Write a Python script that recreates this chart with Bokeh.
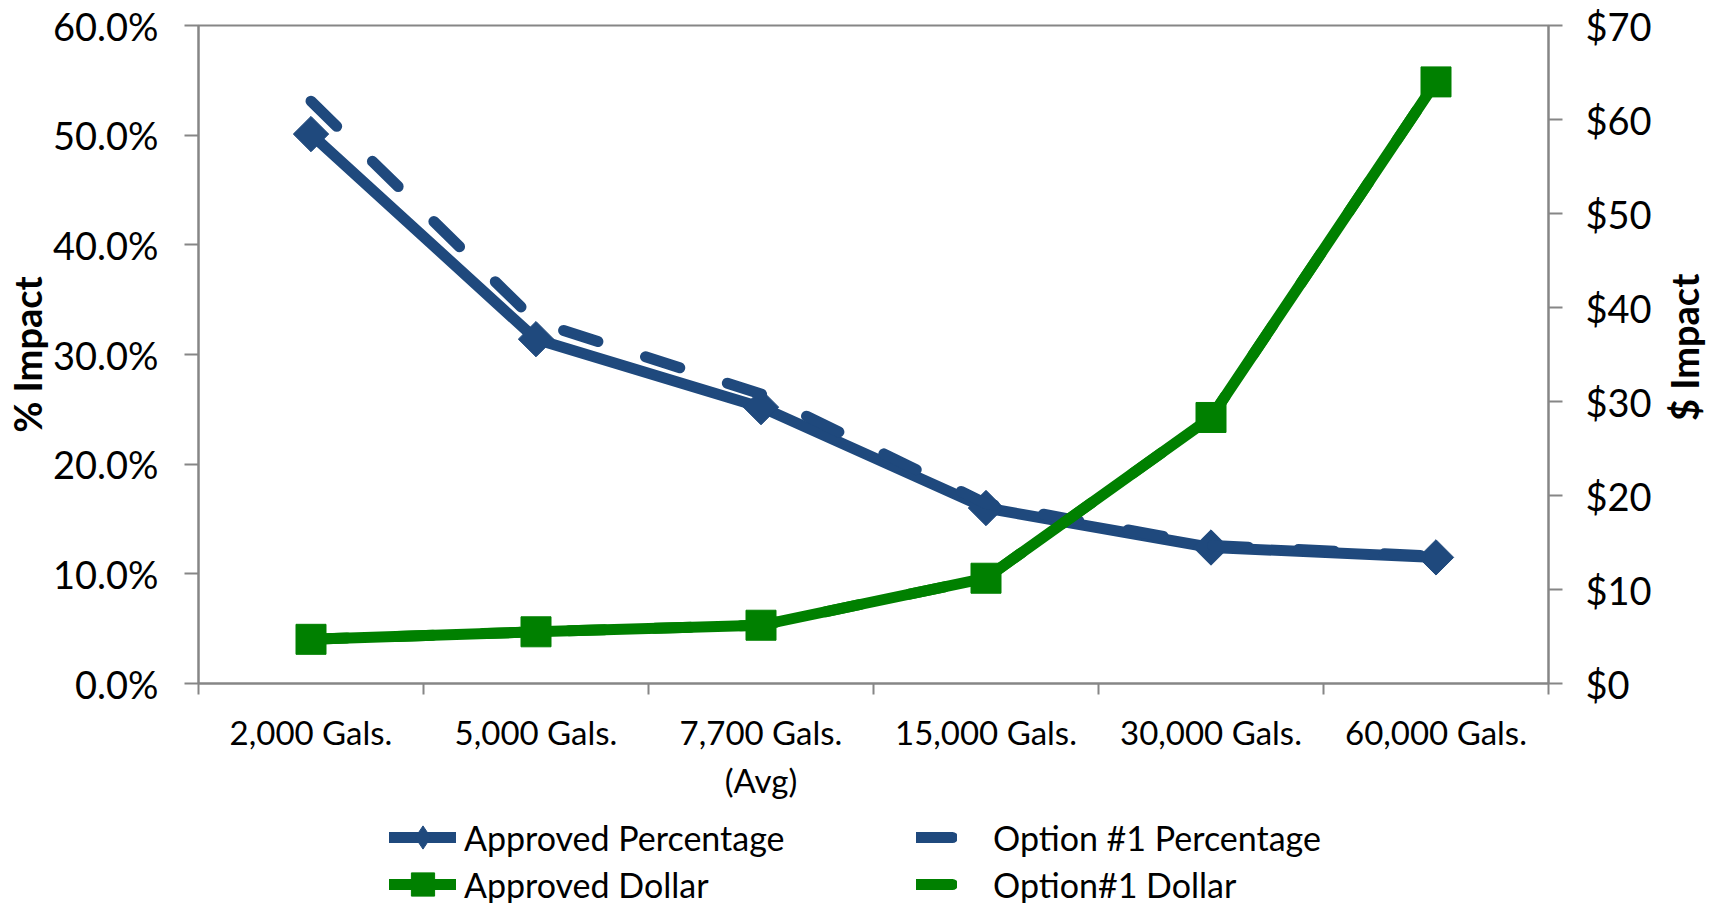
import math
from bokeh.plotting import figure
from bokeh.layouts import column, row
from bokeh.models import (Range1d, LinearAxis, FixedTicker, NumeralTickFormatter,
                          Legend, LegendItem)
from bokeh.core.properties import value
from bokeh.embed import file_html
from bokeh.resources import INLINE

# ---------------- data ----------------
categories = ["2,000 Gals.", "5,000 Gals.", "7,700 Gals.\n(Avg)",
              "15,000 Gals.", "30,000 Gals.", "60,000 Gals."]
approved_pct = [0.501, 0.314, 0.252, 0.160, 0.124, 0.115]
option1_pct = [0.531, 0.330, 0.264, 0.164, 0.126, 0.116]
approved_dollar = [4.7, 5.5, 6.2, 11.2, 28.3, 64.0]
option1_dollar = [4.7, 5.5, 6.2, 11.2, 28.3, 64.0]
pct_ticks = [0.0, 0.1, 0.2, 0.3, 0.4, 0.5, 0.6]
dollar_ticks = [0, 10, 20, 30, 40, 50, 60, 70]
series_names = ["Approved Percentage", "Option #1 Percentage",
                "Approved Dollar", "Option#1 Dollar"]
left_title = "% Impact"
right_title = "$ Impact"

# ---------------- style ----------------
BLUE = "#1F497D"
GREEN = "#008000"
AXIS = "#868686"
FONT = "Lato"
LW = 11
DASH = "36 50"

n = len(categories)
xc = [i + 0.5 for i in range(n)]
bounds = list(range(n + 1))

p = figure(frame_width=1350, frame_height=658,
           x_range=Range1d(0, n), y_range=Range1d(pct_ticks[0], pct_ticks[-1]),
           output_backend="svg", toolbar_location=None, title=None,
           min_border_left=197, min_border_right=112,
           min_border_top=25, min_border_bottom=117)
p.extra_y_ranges = {"dollar": Range1d(dollar_ticks[0], dollar_ticks[-1])}
p.background_fill_color = "white"
p.border_fill_color = "white"
p.outline_line_color = AXIS
p.outline_line_width = 2
p.xgrid.grid_line_color = None
p.ygrid.grid_line_color = None

def style_axis(ax, size):
    ax.axis_line_color = AXIS
    ax.axis_line_width = 2
    ax.major_tick_line_color = AXIS
    ax.major_tick_line_width = 2
    ax.major_tick_out = 14
    ax.major_tick_in = 0
    ax.minor_tick_line_color = None
    ax.major_label_text_font = FONT
    ax.major_label_text_font_size = size
    ax.major_label_text_color = "black"
    ax.axis_label_text_font = FONT
    ax.axis_label_text_font_size = "38px"
    ax.axis_label_text_font_style = "bold"
    ax.axis_label_text_color = "black"

# left axis
ly = p.yaxis[0]
ly.ticker = FixedTicker(ticks=pct_ticks)
ly.formatter = NumeralTickFormatter(format="0.0%")
style_axis(ly, "38px")
ly.major_label_standoff = 26
ly.axis_label = left_title
ly.axis_label_standoff = 0

# right axis
ry = LinearAxis(y_range_name="dollar", ticker=FixedTicker(ticks=dollar_ticks),
                formatter=NumeralTickFormatter(format="$0"))
style_axis(ry, "38px")
ry.major_label_standoff = 23
p.add_layout(ry, "right")

# x axis: labels at centres, tick marks at boundaries
xa = p.xaxis[0]
xa.ticker = FixedTicker(ticks=xc, minor_ticks=bounds)
style_axis(xa, "33px")
xa.major_tick_line_color = None
xa.minor_tick_line_color = AXIS
xa.minor_tick_line_width = 2
xa.minor_tick_out = 11
xa.minor_tick_in = 0
xa.major_label_standoff = 14
xa.major_label_overrides = {xv: c for xv, c in zip(xc, categories)}

# ---------------- series ----------------
p.line(xc, approved_pct, line_color=BLUE, line_width=LW,
       line_join="round", line_cap="round")
p.scatter(xc, approved_pct, marker="square", angle=math.pi / 4, size=25,
          fill_color=BLUE, line_color=BLUE)
p.line(xc, option1_pct, line_color=BLUE, line_width=LW, line_dash=DASH,
       line_join="round", line_cap="round")
p.line(xc, approved_dollar, y_range_name="dollar", line_color=GREEN,
       line_width=LW, line_join="round", line_cap="round")
p.scatter(xc, approved_dollar, y_range_name="dollar", marker="square",
          size=30, fill_color=GREEN, line_color=GREEN)
p.line(xc, option1_dollar, y_range_name="dollar", line_color=GREEN,
       line_width=LW, line_dash=DASH, line_join="round", line_cap="round")

# ---------------- legend strip (own figure so nothing is clipped) ----------------
# the series are re-drawn here outside the visible x range, only to feed the legend
lf = figure(width=1659, height=103, x_range=Range1d(-3, -2), y_range=Range1d(0, 1),
            output_backend="svg", toolbar_location=None, title=None,
            x_axis_location=None, y_axis_location=None,
            min_border=0, min_border_left=0, min_border_right=0,
            min_border_top=0, min_border_bottom=0)
lf.extra_y_ranges = {"dollar": Range1d(dollar_ticks[0], dollar_ticks[-1])}
lf.outline_line_color = None
lf.xgrid.grid_line_color = None
lf.ygrid.grid_line_color = None
lf.background_fill_color = "white"
lf.border_fill_color = "white"

l1 = lf.line(xc, approved_pct, line_color=BLUE, line_width=LW, line_cap="round")
l1m = lf.scatter(xc, approved_pct, marker="diamond", fill_color=BLUE, line_color=BLUE)
l2 = lf.line(xc, option1_pct, line_color=BLUE, line_width=LW, line_dash=DASH,
             line_cap="round")
l3 = lf.line(xc, approved_dollar, y_range_name="dollar", line_color=GREEN,
             line_width=LW, line_cap="round")
l3m = lf.scatter(xc, approved_dollar, y_range_name="dollar", marker="square",
                 fill_color=GREEN, line_color=GREEN)
l4 = lf.line(xc, option1_dollar, y_range_name="dollar", line_color=GREEN,
             line_width=LW, line_dash=DASH, line_cap="round")

def add_legend(label, renderers, gw, standoff, loc):
    lg = Legend(items=[LegendItem(label=label, renderers=renderers)],
                location=loc, glyph_width=gw, glyph_height=58,
                label_standoff=standoff, label_text_font=FONT,
                label_text_font_size="34px", label_text_color="black",
                padding=0, margin=0, spacing=0, border_line_color=None,
                background_fill_alpha=0)
    lf.add_layout(lg, "center")

# legend frame is aligned with the chart frame (starts 197px in)
add_legend(series_names[0], [l1, l1m], 67, 8, (191, 39))
add_legend(series_names[1], [l2], 41, 36, (718, 39))
add_legend(series_names[2], [l3, l3m], 67, 8, (191, -8))
add_legend(series_names[3], [l4], 41, 36, (718, -8))

# ---------------- right-hand axis title strip ----------------
rs = figure(width=52, height=708, x_range=Range1d(0, 1), y_range=Range1d(0, 1),
            output_backend="svg", toolbar_location=None, title=None,
            x_axis_location=None, y_axis_location=None,
            min_border=0, min_border_left=0, min_border_right=0,
            min_border_top=0, min_border_bottom=0)
rs.outline_line_color = None
rs.xgrid.grid_line_color = None
rs.ygrid.grid_line_color = None
rs.background_fill_color = "white"
rs.border_fill_color = "white"
rs.text(x=[0.45], y=[0.51], text=[right_title], angle=math.pi / 2,
        text_align="center", text_baseline="middle", text_font=value(FONT),
        text_font_style="bold", text_font_size="38px", text_color="black")

layout = row(column(p, lf, spacing=0), rs, spacing=0)
open("out.html", "w").write(file_html(layout, INLINE))
